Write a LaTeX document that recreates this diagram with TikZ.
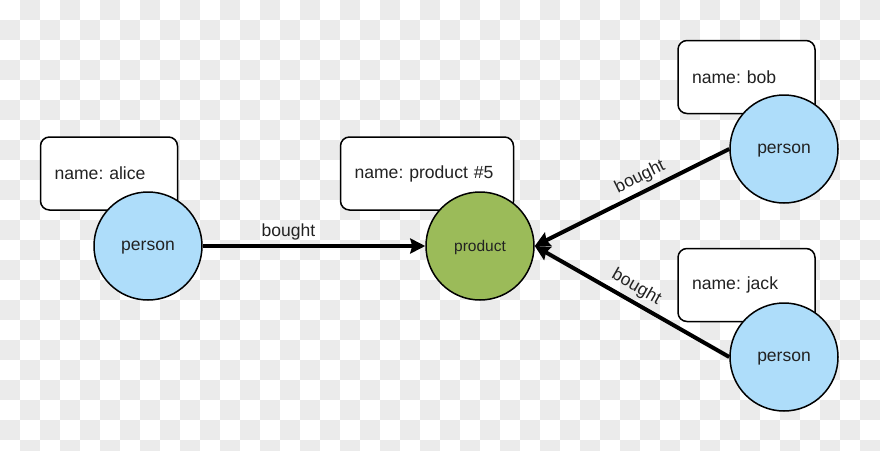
\documentclass[tikz,border=0pt]{standalone}
\usepackage{fontspec}
\setmainfont{Liberation Sans}
\usetikzlibrary{arrows.meta}
\definecolor{personblue}{HTML}{AEDDFA}
\definecolor{productgreen}{HTML}{9BBB59}
\definecolor{checkgrey}{HTML}{EBEBEB}
\definecolor{inkgrey}{HTML}{222222}
\frenchspacing
\begin{document}
\begin{tikzpicture}[x=1pt,y=-1pt,
    namebox/.style={draw,line width=1.5pt,rounded corners=9pt,fill=white,
        minimum height=73pt,inner xsep=14pt,align=left,text=inkgrey,
        font=\fontsize{17.6}{20}\selectfont},
    entity/.style={circle,draw,line width=1.5pt,minimum size=108pt,inner sep=0pt,
        text depth=0pt,text=inkgrey,font=\fontsize{17.5}{20}\selectfont},
    rel/.style={line width=4pt,-{Stealth[length=15pt,width=15pt,inset=2pt]}},
    rellabel/.style={above=1pt,text=inkgrey,font=\fontsize{17.5}{20}\selectfont}]
    \useasboundingbox (0,0) rectangle (880,450);
    \clip (0,0) rectangle (880,450);
    % checkerboard background
    \fill[white] (0,0) rectangle (880,450);
    \foreach \x in {20,60,...,860}
        \foreach \y in {0,40,...,440}
            \fill[checkgrey] (\x,\y) rectangle ++(20,20);
    \foreach \x in {0,40,...,840}
        \foreach \y in {20,60,...,420}
            \fill[checkgrey] (\x,\y) rectangle ++(20,20);
    % property boxes
    \node[namebox,text width=109pt] (alicename) at (109,173.5) {name: alice};
    \node[namebox,text width=145pt] (productname) at (427,173.5) {name: product \#5};
    \node[namebox,text width=109pt] (bobname) at (746.5,77) {name: bob};
    \node[namebox,text width=109pt] (jackname) at (746.5,285) {name: jack};
    % nodes
    \node[entity,fill=personblue] (alice) at (148,246) {person};
    \node[entity,fill=productgreen,font=\fontsize{15.5}{18}\selectfont] (product) at (480,246) {product};
    \node[entity,fill=personblue] (bob) at (784,149) {person};
    \node[entity,fill=personblue] (jack) at (784,357) {person};
    % relations
    \draw[rel] (alice) -- (product) node[pos=0.385,rellabel] {bought};
    \draw[rel] (bob.west) -- (product.east) node[pos=0.425,sloped,rellabel] {bought};
    \draw[rel] (jack.west) -- (product.east) node[pos=0.515,sloped,rellabel] {bought};
\end{tikzpicture}
\end{document}
